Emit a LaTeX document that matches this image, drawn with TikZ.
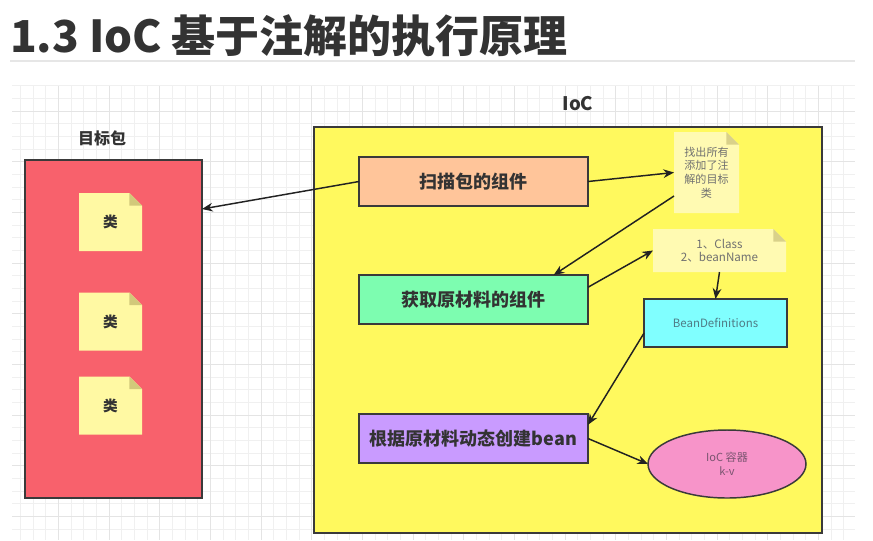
\documentclass[tikz,border=0pt]{standalone}
\usepackage{fontspec}
\setmainfont{Noto Sans CJK SC}
\usetikzlibrary{arrows.meta,calc,shapes.geometric}
\definecolor{titlec}{HTML}{333333}
\definecolor{gridminor}{HTML}{F0F0F0}
\definecolor{gridmajor}{HTML}{E4E4E4}
\definecolor{sepc}{HTML}{E6E6E6}
\definecolor{pkgfill}{HTML}{F8616C}
\definecolor{iocfill}{HTML}{FFF95E}
\definecolor{scanfill}{HTML}{FFC59A}
\definecolor{getfill}{HTML}{7DFDB0}
\definecolor{mkfill}{HTML}{C99BFF}
\definecolor{bdfill}{HTML}{80FFFF}
\definecolor{kvfill}{HTML}{F794C9}
\definecolor{cnotefill}{HTML}{FFF9A3}
\definecolor{cnotefold}{HTML}{D2C97A}
\definecolor{nnotefill}{HTML}{FFFAB2}
\definecolor{nnotefold}{HTML}{D9D18A}
\definecolor{strokec}{HTML}{3A3A3A}
\definecolor{arrowc}{HTML}{222222}
\definecolor{notetext}{HTML}{707070}
\definecolor{bdtext}{HTML}{4F7C86}
\definecolor{kvtext}{HTML}{7A5470}
\pgfdeclarelayer{bg}
\pgfdeclarelayer{mid}
\pgfsetlayers{bg,mid,main}
\newcommand\foldnote[3]{%
  \begin{pgfonlayer}{mid}
  \fill[#2] (#1.north west) -- ([xshift=-9.5pt]#1.north east) -- ([yshift=-9.5pt]#1.north east) -- (#1.south east) -- (#1.south west) -- cycle;
  \fill[#3] ([xshift=-9.5pt]#1.north east) -- ([xshift=-9.5pt,yshift=-9.5pt]#1.north east) -- ([yshift=-9.5pt]#1.north east) -- cycle;
  \end{pgfonlayer}}
\begin{document}
\begin{tikzpicture}[x=0.75pt,y=-0.75pt,
  wh/.style 2 args={minimum width=#1*0.75pt, minimum height=#2*0.75pt},
  every node/.style={inner sep=0pt, outer sep=0pt},
  container/.style={draw=strokec, line width=1.1pt},
  procbox/.style={draw=strokec, line width=1.1pt, text=titlec, font=\bfseries\fontsize{13.5}{16}\selectfont},
  cnote/.style={text=titlec, font=\bfseries\fontsize{11}{13}\selectfont},
  nnote/.style={text=notetext, align=center},
  lbl/.style={text=titlec, font=\bfseries\fontsize{12}{14}\selectfont},
  conn/.style={draw=arrowc, line width=1.1pt, -{Stealth[length=8pt,width=6.5pt]}}
]
\useasboundingbox (0,0) rectangle (873,540);

\begin{pgfonlayer}{bg}
  \fill[white] (0,0) rectangle (873,540);
  % grid
  \foreach \i in {1,...,66} {
    \draw[gridminor, line width=0.6pt] ({7.6+\i*12.667},86) -- ({7.6+\i*12.667},540);
  }
  \foreach \i in {0,...,35} {
    \draw[gridminor, line width=0.6pt] (12,{85.7+\i*12.667}) -- (855,{85.7+\i*12.667});
  }
  \foreach \i in {1,...,16} {
    \draw[gridmajor, line width=0.6pt] ({7.6+\i*50.667},86) -- ({7.6+\i*50.667},540);
  }
  \foreach \i in {0,...,8} {
    \draw[gridmajor, line width=0.6pt] (12,{111+\i*50.667}) -- (855,{111+\i*50.667});
  }
  % containers
  \node[container, fill=pkgfill, wh={177}{338}] (pkg) at (113.5,329) {};
  \node[container, fill=iocfill, wh={508}{406}] (ioc) at (568,330) {};
\end{pgfonlayer}

% title
\node[anchor=west, text=titlec, font=\bfseries\fontsize{33}{40}\selectfont] (title) at (10,36) {1.3 IoC 基于注解的执行原理};
\draw[sepc, line width=0.8pt] (10,61) -- (855,61);

% labels
\node[lbl] (pkglabel) at (102,138) {目标包};
\node[lbl, font=\bfseries\fontsize{14}{16}\selectfont] (ioclabel) at (578,104) {IoC};

% class notes
\node[cnote, wh={63}{58}] (c1) at (110.5,222) {类};
\node[cnote, wh={63}{58}] (c2) at (110.5,321.5) {类};
\node[cnote, wh={63}{58}] (c3) at (110.5,405.5) {类};
\foldnote{c1}{cnotefill}{cnotefold}
\foldnote{c2}{cnotefill}{cnotefold}
\foldnote{c3}{cnotefill}{cnotefold}

% process boxes
\node[procbox, fill=scanfill, wh={229}{49}] (scan) at (473.5,181.5) {扫描包的组件};
\node[procbox, fill=getfill, wh={229}{49}] (get) at (473.5,299.5) {获取原材料的组件};
\node[procbox, fill=mkfill, wh={229}{49}] (mk) at (473.5,438.5) {根据原材料动态创建bean};
\node[draw=strokec, line width=1.1pt, fill=bdfill, wh={143}{48}, text=bdtext, font=\fontsize{8.6}{10}\selectfont] (bd) at (715.5,323) {BeanDefinitions};
\node[ellipse, draw=strokec, line width=1.1pt, fill=kvfill, wh={158}{68}, text=kvtext, align=center, font=\fontsize{8.3}{10.5}\selectfont] (kv) at (727,464) {IoC 容器\\k-v};

% notes in IoC
\node[nnote, wh={65}{81}, font=\fontsize{8.3}{10.2}\selectfont] (note1) at (706.5,172.5) {找出所有\\添加了注\\解的目标\\类};
\node[nnote, wh={133}{43}, font=\fontsize{8.7}{9.8}\selectfont] (note2) at (719.5,250.5) {1、Class\\2、beanName};
\foldnote{note1}{nnotefill}{nnotefold}
\foldnote{note2}{nnotefill}{nnotefold}

% connectors
\draw[conn] (scan.west) -- ($(pkg.north east)!0.145!(pkg.south east)$);
\draw[conn] (scan.east) -- (note1.west);
\draw[conn] ($(note1.north west)!0.79!(note1.south west)$) -- ($(get.north west)!0.85!(get.north east)$);
\draw[conn] ($(get.north east)!0.25!(get.south east)$) -- (note2.west);
\draw[conn] (note2.south) -- (bd.north);
\draw[conn] ($(bd.north west)!0.71!(bd.south west)$) -- ($(mk.north east)!0.22!(mk.south east)$);
\draw[conn] (mk.east) -- (kv.west);
\end{tikzpicture}
\end{document}
